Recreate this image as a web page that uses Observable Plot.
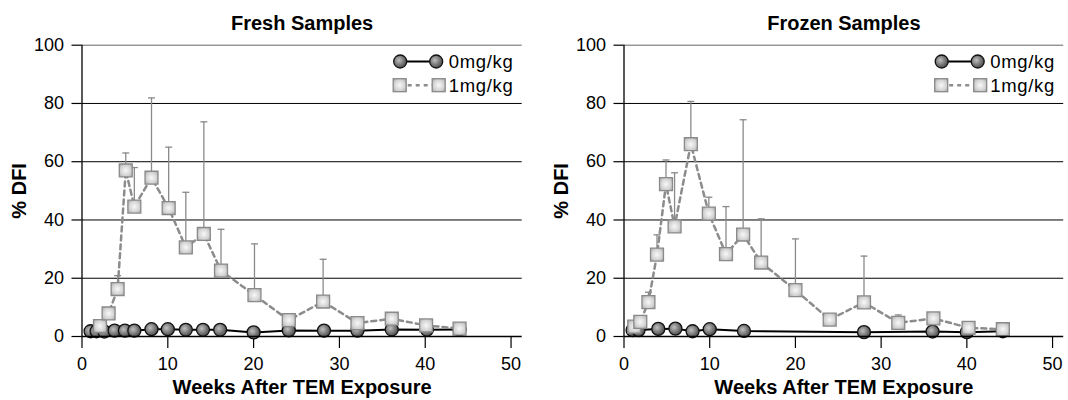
<!DOCTYPE html>
<html><head><meta charset="utf-8">
<script src="https://cdn.jsdelivr.net/npm/d3@7"></script>
<script src="https://cdn.jsdelivr.net/npm/@observablehq/plot@0.6"></script>
<style>
body{margin:0;background:#fff;}
#wrap{display:flex;width:1068px;height:400px;}
</style></head><body>
<svg width="0" height="0" style="position:absolute">
<defs>
<radialGradient id="gCircle" cx="0.4" cy="0.4" r="0.65">
<stop offset="0" stop-color="#c0c0c0"/>
<stop offset="0.55" stop-color="#7a7a7a"/>
<stop offset="1" stop-color="#444"/>
</radialGradient>
<radialGradient id="gSquare" cx="0.5" cy="0.5" r="0.7">
<stop offset="0" stop-color="#f8f8f8"/>
<stop offset="0.6" stop-color="#d2d2d2"/>
<stop offset="1" stop-color="#a0a0a0"/>
</radialGradient>
</defs></svg>
<div id="wrap"></div>
<script>
// ---- data ----
const panelTitles = ["Fresh Samples", "Frozen Samples"];
const seriesNames = ["0mg/kg", "1mg/kg"];
const xLabel = "Weeks After TEM Exposure";
const yLabel = "% DFI";
const xTicks = [0, 10, 20, 30, 40, 50];
const yTicks = [0, 20, 40, 60, 80, 100];
const gridLines = [20, 40, 60, 80];

const freshCtrlWeeks = [1, 1.7, 2.6, 3.8, 5, 6.1, 8.1, 10, 12.1, 14.1, 16.1, 20, 24.1, 28.2, 32.1, 36.1, 40.2, 44];
const freshCtrlDFI   = [1.8, 1.8, 1.7, 2.0, 2.0, 2.0, 2.5, 2.5, 2.3, 2.3, 2.3, 1.4, 2.1, 2.0, 2.0, 2.4, 2.3, 2.4];

const freshDoseWeeks = [2.1, 3.1, 4.15, 5.1, 6.1, 8.1, 10.1, 12.1, 14.2, 16.2, 20.1, 24.1, 28.1, 32.1, 36.1, 40.1, 44.0];
const freshDoseDFI   = [3.6, 7.9, 16.3, 57.0, 44.6, 54.5, 44.1, 30.6, 35.2, 22.6, 14.2, 5.6, 12.0, 4.6, 6.1, 3.8, 2.7];
const freshDoseUpper = [null, null, 20.9, 63.0, 58.0, 81.9, 65.0, 49.5, 73.7, 36.8, 31.8, null, 26.5, null, null, null, null];

const frozenCtrlWeeks = [1, 1.7, 4, 6, 8, 10, 14, 28, 36, 40, 44.2];
const frozenCtrlDFI   = [2.2, 2.2, 2.6, 2.7, 1.8, 2.5, 1.9, 1.5, 1.7, 1.5, 1.8];

const frozenDoseWeeks = [1.2, 1.9, 2.85, 3.85, 4.9, 5.9, 7.8, 9.9, 11.9, 13.9, 16, 20, 24, 28, 32, 36.1, 40.2, 44.2];
const frozenDoseDFI   = [3.4, 5.0, 11.8, 28.1, 52.3, 37.8, 66.0, 42.2, 28.3, 35.0, 25.4, 15.9, 5.8, 11.7, 4.7, 6.2, 3.0, 2.5];
const frozenDoseUpper = [null, null, 15.2, 34.9, 60.6, 56.2, 80.7, 47.8, 44.6, 74.4, 40.4, 33.5, null, 27.6, 7.4, null, null, null];

// ---- helpers ----
const zip = (w, v, u) => w.map((x, i) => ({week: x, dfi: v[i], upper: u ? u[i] : null}));
const capSymbol = {draw(ctx) { ctx.moveTo(-3.5, 0); ctx.lineTo(3.5, 0); }};
const FONT = "'Liberation Sans', Arial, Helvetica, sans-serif";

function legendMark(index, scales, values, dims) {
  const xr = dims.width - dims.marginRight;
  const y1 = dims.marginTop + 16.8, y2 = dims.marginTop + 40.5;
  const g = d3.create("svg:g").attr("font-family", FONT);
  const a = xr - 121.5, b = xr - 85.5, t = xr - 73;
  g.append("line").attr("x1", a).attr("x2", b).attr("y1", y1).attr("y2", y1)
    .attr("stroke", "#000").attr("stroke-width", 2);
  for (const x of [a, b]) g.append("circle").attr("cx", x).attr("cy", y1).attr("r", 6.5)
    .attr("fill", "url(#gCircle)").attr("stroke", "#111").attr("stroke-width", 1.3);
  const c = xr - 122, d = xr - 83;
  g.append("line").attr("x1", c).attr("x2", d).attr("y1", y2).attr("y2", y2)
    .attr("stroke", "#8c8c8c").attr("stroke-width", 2.5).attr("stroke-dasharray", "4,4");
  for (const x of [c, d]) g.append("rect").attr("x", x - 6.5).attr("y", y2 - 6.5).attr("width", 13).attr("height", 13)
    .attr("fill", "url(#gSquare)").attr("stroke", "#8a8a8a").attr("stroke-width", 1.3);
  [y1, y2].forEach((y, i) => g.append("text").attr("x", t).attr("y", y).attr("dy", "0.36em")
    .attr("text-anchor", "start")
    .attr("font-size", 18.5).attr("letter-spacing", "0.7px").attr("fill", "#000").text(seriesNames[i]));
  return g.node();
}

function panel(title, ctrl, dose, width, marginRight) {
  const bars = dose.filter(d => d.upper != null);
  return Plot.plot({
    width, height: 400,
    marginLeft: 81.5, marginRight, marginTop: 44.7, marginBottom: 64,
    x: {domain: [0, 51.3]},
    y: {domain: [0, 100]},
    style: {fontFamily: FONT, fontSize: "18px", color: "#000", background: "white", overflow: "visible"},
    marks: [
      Plot.ruleY(gridLines, {stroke: "#000", strokeWidth: 1}),
      Plot.ruleY([100], {stroke: "#666", strokeWidth: 1}),
      Plot.axisY({ticks: yTicks, tickSize: 10, tickPadding: 8, label: null, fontSize: 18, strokeWidth: 1.2}),
      Plot.axisX({ticks: xTicks, tickSize: 12, tickPadding: 9, label: null, fontSize: 18, strokeWidth: 1.2}),
      Plot.ruleX([0], {stroke: "#000", strokeWidth: 1.3}),
      Plot.line(ctrl, {x: "week", y: "dfi", stroke: "#000", strokeWidth: 2}),
      Plot.dot(ctrl, {x: "week", y: "dfi", r: 6.5, fill: "url(#gCircle)", stroke: "#111", strokeWidth: 1.3}),
      Plot.ruleX(bars, {x: "week", y1: "dfi", y2: "upper", stroke: "#8a8a8a", strokeWidth: 1.3}),
      Plot.dot(bars, {x: "week", y: "upper", symbol: capSymbol, r: 3, fill: "none", stroke: "#8a8a8a", strokeWidth: 1.3}),
      Plot.line(dose, {x: "week", y: "dfi", stroke: "#8c8c8c", strokeWidth: 2.5, strokeDasharray: "5,4"}),
      Plot.dot(dose, {x: "week", y: "dfi", symbol: "square", r: 7.3, fill: "url(#gSquare)", stroke: "#8a8a8a", strokeWidth: 1.3}),
      Plot.ruleY([0], {stroke: "#000", strokeWidth: 1.5}),
      Plot.text([title], {text: d => d, frameAnchor: "top", lineAnchor: "middle", textAnchor: "middle", dy: -21.3, fontSize: 20, fontWeight: "bold"}),
      Plot.text([xLabel], {text: d => d, frameAnchor: "bottom", lineAnchor: "middle", textAnchor: "middle", dy: 51.5, fontSize: 20, fontWeight: "bold"}),
      Plot.text([yLabel], {text: d => d, frameAnchor: "left", lineAnchor: "middle", textAnchor: "middle", dx: -62.7, rotate: -90, fontSize: 20, fontWeight: "bold"}),
      legendMark
    ]
  });
}

const wrap = document.getElementById("wrap");
wrap.append(panel(panelTitles[0], zip(freshCtrlWeeks, freshCtrlDFI), zip(freshDoseWeeks, freshDoseDFI, freshDoseUpper), 542, 20.3));
wrap.append(panel(panelTitles[1], zip(frozenCtrlWeeks, frozenCtrlDFI), zip(frozenDoseWeeks, frozenDoseDFI, frozenDoseUpper), 526, 4.8));
</script>
</body></html>
